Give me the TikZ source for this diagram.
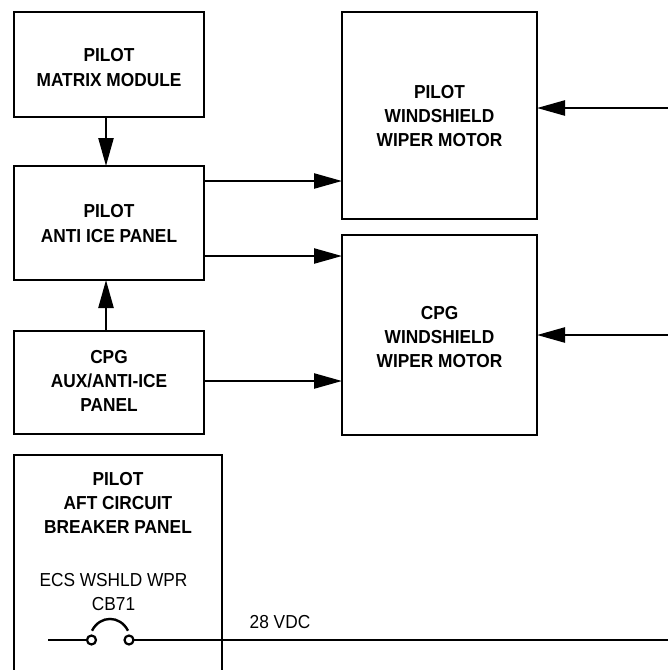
\documentclass[tikz,border=0pt]{standalone}
\usepackage{fontspec}
\setmainfont[FakeStretch=0.92]{Liberation Sans}
\usetikzlibrary{arrows.meta}
\tikzset{
  blockbox/.style={draw=black,line width=2.4pt,fill=white,inner sep=0pt,outer sep=0pt},
  boldtext/.style={inner sep=0pt,outer sep=0pt,align=center,font=\bfseries\fontsize{18.8}{24}\selectfont},
  plaintext/.style={inner sep=0pt,outer sep=0pt,align=center,font=\fontsize{18.8}{24}\selectfont},
  wire/.style={draw=black,line width=2.4pt},
  flow/.style={wire,-{Triangle[length=28pt,width=15pt]}},
  terminal/.style={circle,draw=black,line width=2.2pt,fill=white,minimum size=9pt,inner sep=0pt,outer sep=0pt},
}
\begin{document}
\begin{tikzpicture}[x=1pt,y=-1pt]
\useasboundingbox (0,0) rectangle (668,670);
\clip (0,0) rectangle (668,670);
\node[blockbox,minimum width=190pt,minimum height=105pt,
  label={[boldtext,yshift=-3pt]center:{PILOT\\[1pt]MATRIX MODULE}}] (matrix) at (109,64.5) {};
\node[blockbox,minimum width=190pt,minimum height=114pt,
  label={[boldtext,yshift=-1pt]center:{PILOT\\[1pt]ANTI ICE PANEL}}] (anti) at (109,223) {};
\node[blockbox,minimum width=190pt,minimum height=103pt,
  label={[boldtext,yshift=2pt]center:{CPG\\AUX/ANTI-ICE\\PANEL}}] (aux) at (109,382.5) {};
\node[blockbox,minimum width=195pt,minimum height=207pt,
  label={[boldtext,yshift=-1pt]center:{PILOT\\WINDSHIELD\\WIPER MOTOR}}] (pwm) at (439.5,115.5) {};
\node[blockbox,minimum width=195pt,minimum height=200pt,
  label={[boldtext,yshift=-2.5pt]center:{CPG\\WINDSHIELD\\WIPER MOTOR}}] (cwm) at (439.5,335) {};
% aft panel (runs off the bottom edge)
\coordinate (aftbl) at (14,670);
\coordinate (afttl) at (14,455);
\coordinate (afttr) at (222,455);
\coordinate (aftbr) at (222,670);
\draw[wire,line join=miter] (aftbl) -- (afttl) -- (afttr) -- (aftbr);
\node[boldtext] (aft) at (118,503) {PILOT\\AFT CIRCUIT\\BREAKER PANEL};
\node[plaintext] (ecs) at (113.5,592) {ECS WSHLD WPR\\CB71};
\node[plaintext] (vdc) at (280,622.5) {28 VDC};
% guides
\coordinate (xv) at (106,0);
\coordinate (y1) at (0,181);
\coordinate (y2) at (0,256);
\coordinate (y3) at (0,381);
\coordinate (r1) at (668,108);
\coordinate (r2) at (668,335);
\coordinate (wl) at (48,640);
\coordinate (wr) at (668,640);
% arrows
\draw[flow] (matrix.south -| xv) -- (anti.north -| xv);
\draw[flow] (aux.north -| xv) -- (anti.south -| xv);
\draw[flow] (anti.east |- y1) -- (pwm.west |- y1);
\draw[flow] (anti.east |- y2) -- (cwm.west |- y2);
\draw[flow] (aux.east |- y3) -- (cwm.west |- y3);
\draw[flow] (r1) -- (pwm.east |- r1);
\draw[flow] (r2) -- (cwm.east |- r2);
% breaker
\node[terminal] (c1) at (91.5,640) {};
\node[terminal] (c2) at (129,640) {};
\draw[wire] (wl) -- (c1.west);
\draw[wire] (c2.east) -- (wr);
\coordinate (a1) at (92,630.7);
\coordinate (a2) at (128,630.7);
\draw[wire] (a1) .. controls (100,615) and (120,615) .. (a2);
\end{tikzpicture}
\end{document}
